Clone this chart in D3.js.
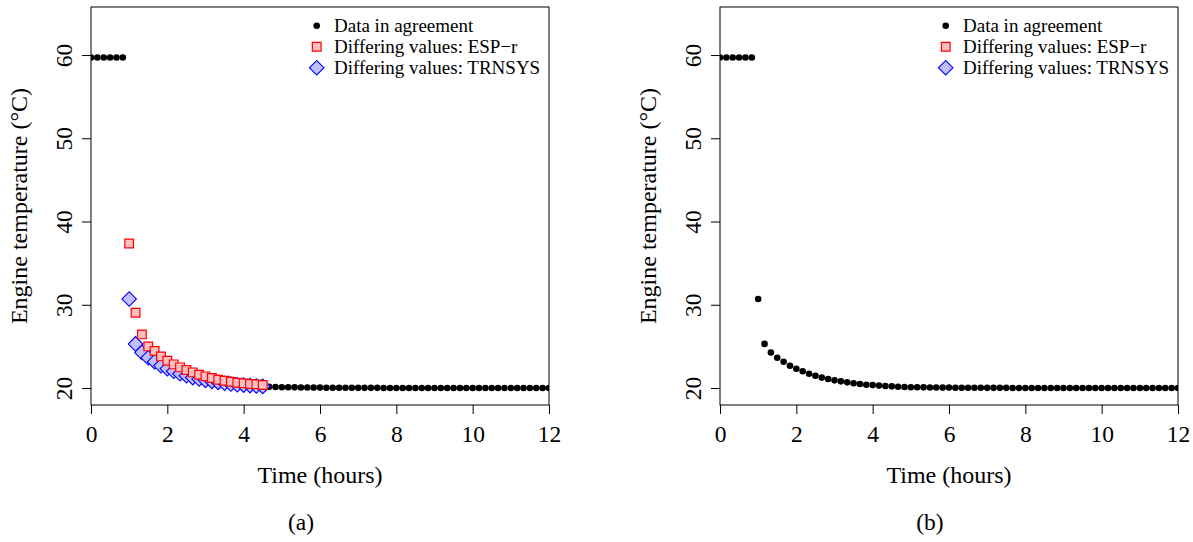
<!DOCTYPE html>
<html>
<head>
<meta charset="utf-8">
<script src="https://cdn.jsdelivr.net/npm/d3@7"></script>
<style>
  body { margin: 0; background: #fff; }
  text { font-family: "Liberation Serif", "Times New Roman", serif; fill: #000; }
</style>
</head>
<body>
<div id="fig"></div>
<script>
// Engine temperature, one sample every 10 minutes (0 .. 12 h)
const stepHours = 1 / 6;

// values where both programs agree (also the TRNSYS series)
const agreeTemps = [
  59.7, 59.7, 59.7, 59.7, 59.7, 59.7,
  30.7, 25.3, 24.27, 23.64, 23.16, 22.68, 22.32, 22.02, 21.72, 21.48,
  21.25, 21.08, 20.92, 20.8, 20.68, 20.58, 20.48, 20.4, 20.35, 20.29,
  20.24, 20.2, 20.16, 20.12,
  20.1, 20.09, 20.08, 20.07, 20.06, 20.05, 20.05, 20.04, 20.04, 20.03,
  20.03, 20.03, 20.02, 20.02, 20.02, 20.02,
  20.01, 20.01, 20.01, 20.01, 20.01, 20.01, 20.01, 20.01, 20.01, 20.01, 20.01, 20.01,
  20.0, 20.0, 20.0, 20.0, 20.0, 20.0, 20.0, 20.0, 20.0, 20.0, 20.0, 20.0, 20.0, 20.0, 20.0
];

// panel (a): samples 6..27 differ between the programs
const diffStart = 6;
const espDiffTemps = [
  37.36, 29.04, 26.44, 25.0, 24.44, 23.8, 23.28, 22.84, 22.48, 22.16, 21.88,
  21.6, 21.4, 21.2, 21.0, 20.88, 20.76, 20.64, 20.56, 20.48, 20.44, 20.36
];

const xTicks = [0, 2, 4, 6, 8, 10, 12];
const yTicks = [20, 30, 40, 50, 60];
const legendLabels = ["Data in agreement", "Differing values: ESP\u2212r", "Differing values: TRNSYS"];
const captions = ["(a)", "(b)"];

const width = 1193, height = 542;
const plotTop = 7, plotBottom = 405, plotW = 458;
const panelLefts = [91, 720];

const svg = d3.select("#fig").append("svg")
  .attr("width", width)
  .attr("height", height);

const sqPath = d3.symbol().type(d3.symbolSquare).size(76)();
const diaPath = d3.symbol().type(d3.symbolSquare).size(106)();

function drawPanel(left, caption, showDiff) {
  const x = d3.scaleLinear().domain([0, 12]).range([left, left + plotW]);
  const y = d3.scaleLinear().domain([17.96, 65.77]).range([plotBottom, plotTop]);

  const pts = agreeTemps.map((v, i) => ({ t: i * stepHours, v: v, i: i }));
  const diffEnd = diffStart + espDiffTemps.length;
  const agree = showDiff ? pts.filter(d => d.i < diffStart || d.i >= diffEnd) : pts;

  const clipId = "clip" + left;
  svg.append("clipPath").attr("id", clipId)
    .append("rect")
    .attr("x", left).attr("y", plotTop)
    .attr("width", plotW).attr("height", plotBottom - plotTop);

  const g = svg.append("g").attr("clip-path", `url(#${clipId})`);

  g.selectAll("circle.agree")
    .data(agree)
    .enter()
    .append("circle")
    .attr("class", "agree")
    .attr("cx", d => x(d.t))
    .attr("cy", d => y(d.v))
    .attr("r", 3.3)
    .attr("fill", "#000");

  if (showDiff) {
    const trn = pts.slice(diffStart, diffEnd);
    g.selectAll("path.trn")
      .data(trn)
      .enter()
      .append("path")
      .attr("class", "trn")
      .attr("d", diaPath)
      .attr("transform", d => `translate(${x(d.t)},${y(d.v)}) rotate(45)`)
      .attr("fill", "#bfbfff")
      .attr("stroke", "#0000ff")
      .attr("stroke-width", 1.1);

    const esp = espDiffTemps.map((v, j) => ({ t: (diffStart + j) * stepHours, v: v }));
    g.selectAll("path.esp")
      .data(esp)
      .enter()
      .append("path")
      .attr("class", "esp")
      .attr("d", sqPath)
      .attr("transform", d => `translate(${x(d.t)},${y(d.v)})`)
      .attr("fill", "#ffbfbf")
      .attr("stroke", "#ff0000")
      .attr("stroke-width", 1.2);
  }

  // box
  svg.append("rect")
    .attr("x", left).attr("y", plotTop)
    .attr("width", plotW).attr("height", plotBottom - plotTop)
    .attr("fill", "none")
    .attr("stroke", "#000")
    .attr("stroke-width", 1);

  // axes
  const xAxis = svg.append("g")
    .attr("transform", `translate(0,${plotBottom})`)
    .call(d3.axisBottom(x).tickValues(xTicks).tickSize(9).tickPadding(11).tickSizeOuter(0));
  xAxis.select(".domain").remove();
  xAxis.selectAll("text").attr("font-size", 23.5).attr("font-family", null);

  const yAxis = svg.append("g")
    .attr("transform", `translate(${left},0)`)
    .call(d3.axisLeft(y).tickValues(yTicks).tickSize(9).tickSizeOuter(0));
  yAxis.select(".domain").remove();
  yAxis.selectAll("text")
    .attr("font-size", 23.5)
    .attr("font-family", null)
    .attr("x", null).attr("dy", null)
    .attr("text-anchor", "middle")
    .attr("transform", "translate(-19,0) rotate(-90)");

  svg.append("text")
    .attr("x", left + plotW / 2)
    .attr("y", 483)
    .attr("text-anchor", "middle")
    .attr("font-size", 24)
    .text("Time (hours)");

  svg.append("text")
    .attr("transform", `translate(${left - 64},${(plotTop + plotBottom) / 2}) rotate(-90)`)
    .attr("text-anchor", "middle")
    .attr("font-size", 24)
    .text("Engine temperature (\u00B0C)");

  svg.append("text")
    .attr("x", left + plotW / 2 - 19)
    .attr("y", 530)
    .attr("text-anchor", "middle")
    .attr("font-size", 23.5)
    .text(caption);

  // legend
  const legend = svg.append("g")
    .attr("transform", `translate(${left + 225.7},25.7)`);

  const items = legend.selectAll(".legend-item")
    .data(legendLabels)
    .enter()
    .append("g")
    .attr("class", "legend-item")
    .attr("transform", (d, i) => `translate(0,${i * 21})`);

  items.each(function (d, i) {
    const it = d3.select(this);
    if (i === 0) {
      it.append("circle").attr("r", 3.3).attr("fill", "#000");
    } else if (i === 1) {
      it.append("path").attr("d", sqPath)
        .attr("fill", "#ffbfbf").attr("stroke", "#ff0000").attr("stroke-width", 1.2);
    } else {
      it.append("path").attr("d", diaPath).attr("transform", "rotate(45)")
        .attr("fill", "#bfbfff").attr("stroke", "#0000ff").attr("stroke-width", 1.1);
    }
  });

  items.append("text")
    .attr("x", 17.3)
    .attr("dy", "0.32em")
    .attr("font-size", 19)
    .text(d => d);
}

drawPanel(panelLefts[0], captions[0], true);
drawPanel(panelLefts[1], captions[1], false);
</script>
</body>
</html>
